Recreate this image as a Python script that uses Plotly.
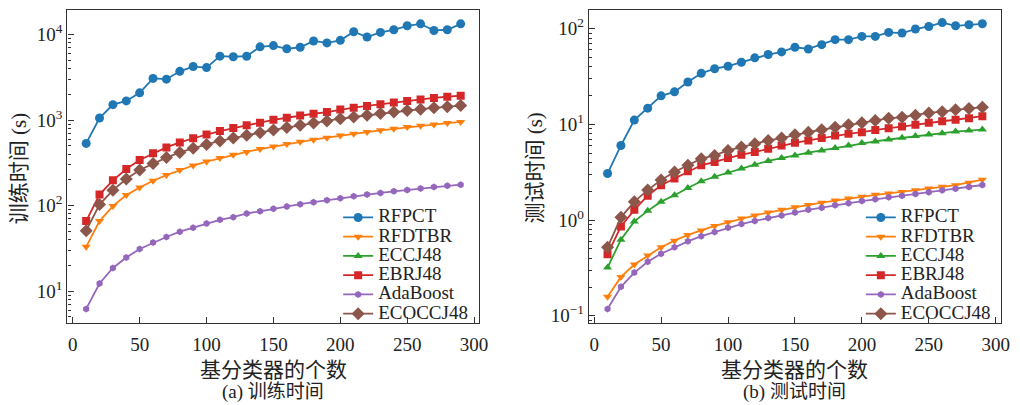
import plotly.graph_objects as go

# ---------------- data ----------------
n_base = [10, 20, 30, 40, 50, 60, 70, 80, 90, 100, 110, 120, 130, 140, 150,
          160, 170, 180, 190, 200, 210, 220, 230, 240, 250, 260, 270, 280, 290]

series_names = ["RFPCT", "RFDTBR", "ECCJ48", "EBRJ48", "AdaBoost", "ECOCCJ48"]

# training time (s)
rfpct_train = [535, 1060, 1520, 1680, 2090, 3080, 3020, 3730, 4240, 4120, 5610, 5520, 5600, 7210, 7460,
               6840, 7130, 8450, 8010, 8590, 10830, 9400, 10640, 11420, 12710, 13400, 11210, 11420, 13400]
rfdtbr_train = [33, 66, 99, 133, 163, 196, 228, 262, 295, 328, 360, 395, 425, 460, 492,
                525, 560, 592, 625, 660, 692, 725, 760, 792, 830, 860, 890, 925, 953]
ebrj48_train = [66, 135, 198, 268, 343, 410, 480, 550, 615, 680, 745, 810, 870, 935, 1010,
                1068, 1136, 1189, 1244, 1330, 1400, 1470, 1540, 1610, 1680, 1750, 1820, 1880, 1937]
adaboost_train = [6.2, 12.3, 18.7, 24.8, 31.2, 37, 43, 49.7, 55.2, 62, 68.4, 73.4, 81, 86, 92,
                  98, 104, 110, 116, 122, 129, 135, 141, 147, 153, 159, 165, 171, 176]
ecocc_train = [51, 103, 152, 205, 262, 312, 365, 420, 470, 520, 572, 620, 667, 715, 770,
               820, 870, 925, 975, 1040, 1090, 1140, 1195, 1245, 1297, 1345, 1395, 1440, 1484]

# testing time (s)
rfpct_test = [3.07, 6.03, 11.1, 14.8, 19.9, 21.9, 27.8, 34.2, 38.2, 40.6, 44.7, 49.7, 53.8, 57.3, 64.1,
              61.5, 68.2, 76.9, 76.9, 83.2, 83.2, 91.6, 90.2, 99.3, 105.7, 116, 107.4, 110, 112.7]
rfdtbr_test = [0.158, 0.255, 0.344, 0.427, 0.52, 0.61, 0.70, 0.78, 0.87, 0.95, 1.04, 1.12, 1.2, 1.28, 1.36,
               1.44, 1.52, 1.6, 1.68, 1.76, 1.84, 1.9, 1.97, 2.05, 2.14, 2.23, 2.32, 2.46, 2.65]
eccj48_test = [0.32, 0.625, 0.97, 1.25, 1.56, 1.82, 2.17, 2.55, 2.84, 3.14, 3.46, 3.80, 4.16, 4.47, 4.75,
               5.07, 5.35, 5.66, 6.03, 6.38, 6.64, 6.96, 7.24, 7.55, 7.84, 8.1, 8.42, 8.62, 8.83]
ebrj48_test = [0.44, 0.86, 1.28, 1.8, 2.32, 2.72, 3.24, 3.74, 4.06, 4.46, 4.83, 5.15, 5.57, 6.03, 6.43,
               6.8, 7.2, 7.66, 7.97, 8.3, 8.77, 9.14, 9.5, 9.95, 10.4, 10.8, 11.2, 11.6, 12.2]
adaboost_test = [0.118, 0.201, 0.283, 0.367, 0.445, 0.52, 0.60, 0.68, 0.75, 0.83, 0.91, 0.98, 1.05, 1.12, 1.2,
                 1.28, 1.35, 1.43, 1.5, 1.58, 1.65, 1.73, 1.8, 1.88, 1.96, 2.05, 2.13, 2.22, 2.33]
ecocc_test = [0.52, 1.07, 1.56, 2.06, 2.62, 3.19, 3.74, 4.39, 4.75, 5.35, 5.8, 6.28, 6.8, 7.2, 7.8,
              8.3, 8.8, 9.35, 9.9, 10.4, 11.0, 11.6, 11.9, 12.5, 13.2, 13.6, 14.2, 14.7, 15.1]

x_ticks = [0, 50, 100, 150, 200, 250, 300]
train_yticks = [10, 100, 1000, 10000]
train_yticklabels = ["10<sup>1</sup>", "10<sup>2</sup>", "10<sup>3</sup>", "10<sup>4</sup>"]
test_yticks = [0.1, 1, 10, 100]
test_yticklabels = ["10<sup>−1</sup>", "10<sup>0</sup>", "10<sup>1</sup>", "10<sup>2</sup>"]

# ---------------- styles ----------------
colors = {"RFPCT": "#1f77b4", "RFDTBR": "#ff7f0e", "ECCJ48": "#2ca02c",
          "EBRJ48": "#d62728", "AdaBoost": "#9467bd", "ECOCCJ48": "#8c564b"}
symbols = {"RFPCT": "circle", "RFDTBR": "triangle-down", "ECCJ48": "triangle-up",
           "EBRJ48": "square", "AdaBoost": "hexagon", "ECOCCJ48": "diamond"}
msize = {"RFPCT": 9, "RFDTBR": 8, "ECCJ48": 8, "EBRJ48": 8, "AdaBoost": 7, "ECOCCJ48": 10}

train = {"RFPCT": rfpct_train, "RFDTBR": rfdtbr_train, "EBRJ48": ebrj48_train,
         "AdaBoost": adaboost_train, "ECOCCJ48": ecocc_train}
test = {"RFPCT": rfpct_test, "RFDTBR": rfdtbr_test, "ECCJ48": eccj48_test,
        "EBRJ48": ebrj48_test, "AdaBoost": adaboost_test, "ECOCCJ48": ecocc_test}

SERIF = "Liberation Serif, Times New Roman, Noto Sans CJK SC, serif"
CJK = "Noto Sans CJK SC, Liberation Serif, serif"
TXT = "#222222"

fig = go.Figure()

def legend_name(name):
    return '<span style="font-size:19px">' + name + "</span>"

def add(name, ys, xa, ya, leg):
    fig.add_trace(go.Scatter(
        x=n_base, y=ys, mode="lines+markers",
        name=legend_name(name),
        xaxis=xa, yaxis=ya, legend=leg,
        line=dict(color=colors[name], width=1.8),
        marker=dict(symbol=symbols[name], size=msize[name], color=colors[name]),
    ))

# training subplot: ECCJ48 appears in the legend only (no visible training curve)
for nm in series_names:
    if nm in train:
        add(nm, train[nm], "x", "y", "legend")
    else:
        fig.add_trace(go.Scatter(
            x=[None], y=[None], mode="lines+markers",
            name=legend_name(nm),
            xaxis="x", yaxis="y", legend="legend",
            line=dict(color=colors[nm], width=1.8),
            marker=dict(symbol=symbols[nm], size=msize[nm], color=colors[nm]),
        ))
for nm in series_names:
    add(nm, test[nm], "x2", "y2", "legend2")

def minor_vals(lo_exp, hi_exp):
    return [m * 10 ** e for e in range(lo_exp, hi_exp + 1) for m in range(2, 10)]

axis_common = dict(showline=True, linecolor="#333333", linewidth=1.3, mirror=True,
                   ticks="inside", ticklen=6, tickcolor="#333333", showgrid=False,
                   zeroline=False, tickfont=dict(family=SERIF, size=19, color=TXT))

minor_common = dict(ticks="inside", ticklen=3.5, tickcolor="#333333", showgrid=False)

fig.update_layout(
    width=1020, height=405,
    margin=dict(l=0, r=0, t=0, b=0),
    paper_bgcolor="white", plot_bgcolor="white",
    xaxis=dict(domain=[0.0667, 0.4742], range=[-4, 304], tickvals=x_ticks, anchor="y",
               ticklabelstandoff=4, **axis_common),
    yaxis=dict(domain=[0.195, 0.9753], type="log", range=[0.63, 4.29],
               tickvals=train_yticks, ticktext=train_yticklabels, anchor="x",
               minor=dict(tickvals=minor_vals(0, 4), **minor_common),
               **axis_common),
    xaxis2=dict(domain=[0.5824, 0.9902], range=[-4, 304], tickvals=x_ticks, anchor="y2",
                ticklabelstandoff=4, **axis_common),
    yaxis2=dict(domain=[0.195, 0.9753], type="log", range=[-1.073, 2.197],
                tickvals=test_yticks, ticktext=test_yticklabels, anchor="x2",
                minor=dict(tickvals=minor_vals(-2, 2), **minor_common),
                **axis_common),
    legend=dict(x=0.468, y=0.18, xanchor="right", yanchor="bottom", bgcolor="rgba(0,0,0,0)",
                font=dict(family=SERIF, size=12.5, color=TXT), itemwidth=30, tracegroupgap=0),
    legend2=dict(x=0.985, y=0.18, xanchor="right", yanchor="bottom", bgcolor="rgba(0,0,0,0)",
                 font=dict(family=SERIF, size=12.5, color=TXT), itemwidth=30, tracegroupgap=0),
    showlegend=True,
)

ann = []
for cx in [0.2705, 0.7863]:
    ann.append(dict(text="基分类器的个数", x=cx, y=1 - 372 / 405, xref="paper", yref="paper",
                    showarrow=False, font=dict(family=CJK, size=21, color=TXT),
                    xanchor="center", yanchor="middle"))
ann.append(dict(text="(a) 训练时间", x=0.2705, y=1 - 396 / 405, xref="paper", yref="paper",
                showarrow=False, font=dict(family=SERIF, size=19, color=TXT),
                xanchor="center", yanchor="middle"))
ann.append(dict(text="(b) 测试时间", x=0.7863, y=1 - 396 / 405, xref="paper", yref="paper",
                showarrow=False, font=dict(family=SERIF, size=19, color=TXT),
                xanchor="center", yanchor="middle"))
ann.append(dict(text="训练时间 (s)", x=19 / 1020, y=1 - 170 / 405, xref="paper", yref="paper",
                showarrow=False, textangle=-90, font=dict(family=SERIF, size=21, color=TXT),
                xanchor="center", yanchor="middle"))
ann.append(dict(text="测试时间 (s)", x=540 / 1020, y=1 - 170 / 405, xref="paper", yref="paper",
                showarrow=False, textangle=-90, font=dict(family=SERIF, size=21, color=TXT),
                xanchor="center", yanchor="middle"))
fig.update_layout(annotations=ann)

fig.write_html("out.html")
